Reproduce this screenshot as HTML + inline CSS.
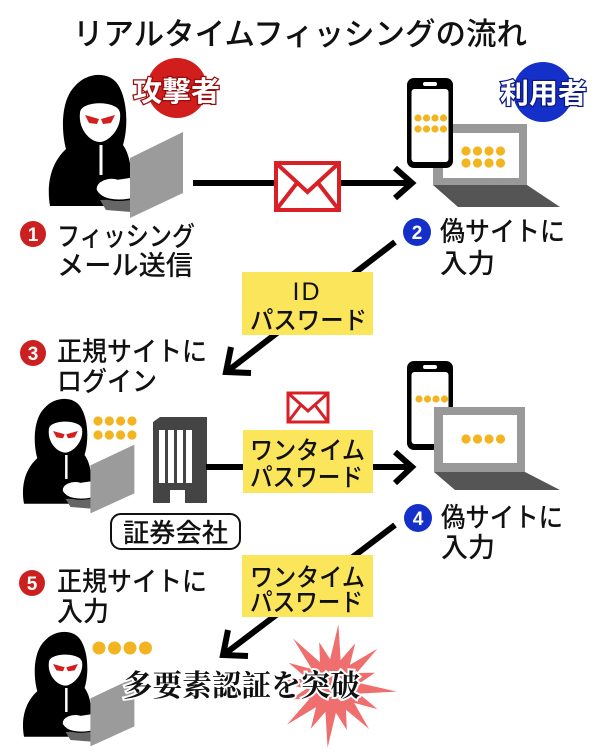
<!DOCTYPE html>
<html><head><meta charset="utf-8"><style>
html,body{margin:0;padding:0;background:#fff;}
svg{display:block;}
text{font-family:"Liberation Sans","Noto Sans CJK JP",sans-serif;font-weight:500;}
</style></head><body>
<svg width="600" height="756" viewBox="0 0 600 756" xmlns="http://www.w3.org/2000/svg">
<defs>
  <g id="hacker">
    <path d="M50 206 C46 182,52 162,66 149 C61 130,61 100,75 86 C86 73,106 71,116 82 C127 95,129 125,123 145 C131 156,133 176,131 206 Z" fill="#000"/>
    <path d="M80 113 C80 100,119 100,120 113 C122 129,108 142,100 142 C90 142,78 129,80 113 Z" fill="#fff"/>
    <path d="M85 115 L99 119 L97 124 L89 123 Z" fill="#d41f1f"/>
    <path d="M115 115 L101 119 L103 124 L111 123 Z" fill="#d41f1f"/>
    <rect x="99.5" y="145" width="3" height="30" fill="#fff"/>
    <polygon points="100,200 131,199 131,212 106,210" fill="#666"/>
    <path d="M96 190 C95 181,108 176,118 179 L131 177 L131 199 C116 202,101 200,96 190 Z" fill="#fff" stroke="#000" stroke-width="1.5"/>
    <polygon points="130,158 183,132 183,193 130,218" fill="#9b9b9b"/>
  </g>
</defs>

<!-- Title -->
<text x="73" y="45" font-size="31" textLength="454" lengthAdjust="spacingAndGlyphs" fill="#111">リアルタイムフィッシングの流れ</text>

<!-- Hacker 1 -->
<use href="#hacker"/>
<circle cx="177" cy="88" r="30" fill="#d21d1d"/>
<text x="133" y="101" font-size="28" font-weight="bold" textLength="87" lengthAdjust="spacingAndGlyphs" fill="#fff" stroke="#9a0d0d" stroke-width="2.5" paint-order="stroke" style="font-weight:bold">攻撃者</text>

<!-- User 1 devices -->
<rect x="433" y="124" width="94" height="61" fill="#999"/>
<rect x="443" y="133" width="76" height="45" fill="#fff"/>
<polygon points="433,185 527,185 560,207 458,207" fill="#555"/>
<g fill="#f2b51f">
  <circle cx="466" cy="151" r="4.6"/><circle cx="477.5" cy="151" r="4.6"/><circle cx="489" cy="151" r="4.6"/><circle cx="500.5" cy="151" r="4.6"/>
  <circle cx="466" cy="163" r="4.6"/><circle cx="477.5" cy="163" r="4.6"/><circle cx="489" cy="163" r="4.6"/><circle cx="500.5" cy="163" r="4.6"/>
</g>
<rect x="407" y="78" width="46" height="90" rx="7" fill="#000"/>
<rect x="411.5" y="89" width="37" height="73" rx="3" fill="#fff"/>
<rect x="423" y="82" width="14" height="4" rx="2" fill="#fff"/>
<g fill="#f2b51f">
  <circle cx="418" cy="118" r="3.6"/><circle cx="426.5" cy="118" r="3.6"/><circle cx="435" cy="118" r="3.6"/><circle cx="443.5" cy="118" r="3.6"/>
  <circle cx="418" cy="129" r="3.6"/><circle cx="426.5" cy="129" r="3.6"/><circle cx="435" cy="129" r="3.6"/><circle cx="443.5" cy="129" r="3.6"/>
</g>
<circle cx="543" cy="92" r="30" fill="#1530c8"/>
<text x="500" y="103" font-size="28" textLength="87" lengthAdjust="spacingAndGlyphs" fill="#fff" stroke="#0c1a80" stroke-width="2.5" paint-order="stroke" style="font-weight:bold">利用者</text>

<!-- Arrow 1 with envelope -->
<line x1="193" y1="183" x2="276" y2="183" stroke="#000" stroke-width="6"/>
<line x1="340" y1="183" x2="410" y2="183" stroke="#000" stroke-width="6"/>
<polyline points="395,168 412,183 395,198" fill="none" stroke="#000" stroke-width="6"/>
<g fill="#fff" stroke="#d92027" stroke-width="4">
  <rect x="276" y="163" width="63" height="47"/>
  <polyline points="276,163 307.5,192 339,163" fill="none"/>
  <line x1="276" y1="210" x2="297" y2="183"/>
  <line x1="339" y1="210" x2="318" y2="183"/>
</g>

<!-- Step 1 -->
<circle cx="33" cy="234" r="13" fill="#cc1f1f"/>
<text x="33" y="241" font-size="19" fill="#fff" text-anchor="middle" style="font-weight:bold">1</text>
<text x="57" y="246" font-size="27" textLength="138" lengthAdjust="spacingAndGlyphs" fill="#111">フィッシング</text>
<text x="57" y="275" font-size="27" textLength="136" lengthAdjust="spacingAndGlyphs" fill="#111">メール送信</text>

<!-- Step 2 -->
<circle cx="417" cy="232" r="14" fill="#1530c8"/>
<text x="417" y="239" font-size="19" fill="#fff" text-anchor="middle" style="font-weight:bold">2</text>
<text x="440" y="241" font-size="27" textLength="125" lengthAdjust="spacingAndGlyphs" fill="#111">偽サイトに</text>
<text x="440" y="273" font-size="27" textLength="55" lengthAdjust="spacingAndGlyphs" fill="#111">入力</text>

<!-- Diagonal arrow 1 -->
<line x1="395" y1="242" x2="229" y2="370" stroke="#000" stroke-width="6"/>
<polyline points="231,347 226,372 251,373" fill="none" stroke="#000" stroke-width="6"/>
<rect x="242" y="272" width="131" height="63" fill="#fbe55a"/>
<text x="307" y="300" font-size="25" fill="#111" text-anchor="middle" font-family="Liberation Sans, sans-serif" letter-spacing="2">ID</text>
<text x="250" y="329" font-size="25" textLength="117" lengthAdjust="spacingAndGlyphs" fill="#111">パスワード</text>

<!-- Step 3 -->
<circle cx="33" cy="353" r="13" fill="#cc1f1f"/>
<text x="33" y="360" font-size="19" fill="#fff" text-anchor="middle" style="font-weight:bold">3</text>
<text x="57" y="361" font-size="27" textLength="150" lengthAdjust="spacingAndGlyphs" fill="#111">正規サイトに</text>
<text x="57" y="391" font-size="27" textLength="100" lengthAdjust="spacingAndGlyphs" fill="#111">ログイン</text>

<!-- Hacker 2 -->
<use href="#hacker" transform="translate(-17.5,339) scale(0.83,0.8)"/>
<g fill="#f2b51f">
  <circle cx="98" cy="421" r="4.6"/><circle cx="109.3" cy="421" r="4.6"/><circle cx="120.6" cy="421" r="4.6"/><circle cx="132" cy="421" r="4.6"/>
  <circle cx="98" cy="435" r="4.6"/><circle cx="109.3" cy="435" r="4.6"/><circle cx="120.6" cy="435" r="4.6"/><circle cx="132" cy="435" r="4.6"/>
</g>
<!-- Building -->
<polygon points="153,422 160,417 207,417 207,503 185,503 185,490 170,490 170,503 153,503" fill="#444"/>
<g fill="#fff">
  <rect x="159" y="430" width="6" height="53"/><rect x="168" y="430" width="6" height="53"/>
  <rect x="177" y="430" width="6" height="53"/><rect x="186" y="430" width="6" height="53"/>
</g>
<rect x="111" y="514" width="129" height="35" rx="10" fill="#fff" stroke="#111" stroke-width="2"/>
<text x="123" y="542" font-size="26" textLength="105" lengthAdjust="spacingAndGlyphs" fill="#111">証券会社</text>

<!-- Middle arrow -->
<line x1="206" y1="467" x2="244" y2="467" stroke="#000" stroke-width="6"/>
<line x1="372" y1="467" x2="412" y2="467" stroke="#000" stroke-width="6"/>
<polyline points="395,452 412,467 395,483" fill="none" stroke="#000" stroke-width="6"/>
<rect x="243" y="430" width="130" height="63" fill="#fbe55a"/>
<text x="250" y="459" font-size="25" textLength="115" lengthAdjust="spacingAndGlyphs" fill="#111">ワンタイム</text>
<text x="250" y="486" font-size="25" textLength="113" lengthAdjust="spacingAndGlyphs" fill="#111">パスワード</text>
<g fill="#fff" stroke="#d92027" stroke-width="3">
  <rect x="288" y="393" width="40" height="29"/>
  <polyline points="288,393 308,411 328,393" fill="none"/>
  <line x1="288" y1="422" x2="301" y2="405"/>
  <line x1="328" y1="422" x2="315" y2="405"/>
</g>

<!-- User 2 devices -->
<rect x="407" y="361" width="46" height="89" rx="7" fill="#000"/>
<rect x="411.5" y="372" width="37" height="72" rx="3" fill="#fff"/>
<rect x="423" y="365" width="14" height="4" rx="2" fill="#fff"/>
<g fill="#f2b51f">
  <circle cx="419" cy="399" r="3.6"/><circle cx="427.5" cy="399" r="3.6"/><circle cx="436" cy="399" r="3.6"/><circle cx="444.5" cy="399" r="3.6"/>
</g>
<rect x="434" y="407" width="91" height="65" fill="#999"/>
<rect x="443" y="415" width="74" height="48" fill="#fff"/>
<polygon points="434,472 525,472 560,490 455,490" fill="#555"/>
<g fill="#f2b51f">
  <circle cx="466" cy="439" r="4.6"/><circle cx="477.5" cy="439" r="4.6"/><circle cx="489" cy="439" r="4.6"/><circle cx="500.5" cy="439" r="4.6"/>
</g>

<!-- Step 4 -->
<circle cx="418" cy="518" r="14" fill="#1530c8"/>
<text x="418" y="525" font-size="19" fill="#fff" text-anchor="middle" style="font-weight:bold">4</text>
<text x="441" y="527" font-size="27" textLength="122" lengthAdjust="spacingAndGlyphs" fill="#111">偽サイトに</text>
<text x="441" y="557" font-size="27" textLength="54" lengthAdjust="spacingAndGlyphs" fill="#111">入力</text>

<!-- Diagonal arrow 2 -->
<line x1="395" y1="525" x2="226" y2="653" stroke="#000" stroke-width="6"/>
<polyline points="228,630 223,655 248,656" fill="none" stroke="#000" stroke-width="6"/>
<rect x="242" y="555" width="131" height="62" fill="#fbe55a"/>
<text x="250" y="586" font-size="25" textLength="115" lengthAdjust="spacingAndGlyphs" fill="#111">ワンタイム</text>
<text x="250" y="611" font-size="25" textLength="113" lengthAdjust="spacingAndGlyphs" fill="#111">パスワード</text>

<!-- Step 5 -->
<circle cx="32" cy="583" r="13" fill="#cc1f1f"/>
<text x="32" y="590" font-size="19" fill="#fff" text-anchor="middle" style="font-weight:bold">5</text>
<text x="57" y="591" font-size="27" textLength="150" lengthAdjust="spacingAndGlyphs" fill="#111">正規サイトに</text>
<text x="57" y="621" font-size="27" textLength="52" lengthAdjust="spacingAndGlyphs" fill="#111">入力</text>

<!-- Hacker 3 -->
<use href="#hacker" transform="translate(-17.5,572) scale(0.83,0.8)"/>
<g fill="#f2b51f">
  <circle cx="99" cy="648" r="6.5"/><circle cx="114.5" cy="648" r="6.5"/><circle cx="130" cy="648" r="6.5"/><circle cx="145.5" cy="648" r="6.5"/>
</g>

<!-- Starburst -->
<polygon fill="#ef6e6e" points="338.4,624.2 340.6,660.1 355.2,643.4 349.9,664.9 377.4,648.7 356.7,673.0 375.0,672.8 359.8,683.1 396.8,691.6 358.9,693.6 377.4,709.1 354.1,702.9 369.0,728.9 346.0,709.7 346.8,729.9 335.9,712.8 327.6,747.8 325.4,711.9 310.8,728.6 316.1,707.1 287.0,724.6 309.3,699.0 291.0,699.2 306.2,688.9 275.2,680.9 307.1,678.4 288.7,662.9 311.9,669.1 293.1,638.5 320.0,662.3 319.2,642.1 330.1,659.2"/>
<text x="123" y="696" font-size="30" textLength="237" lengthAdjust="spacingAndGlyphs" fill="#111" stroke="#fff" stroke-width="4" paint-order="stroke" style="font-family:'Liberation Serif','Noto Serif CJK SC',serif;font-weight:bold;">多要素認証を突破</text>
</svg>
</body></html>
